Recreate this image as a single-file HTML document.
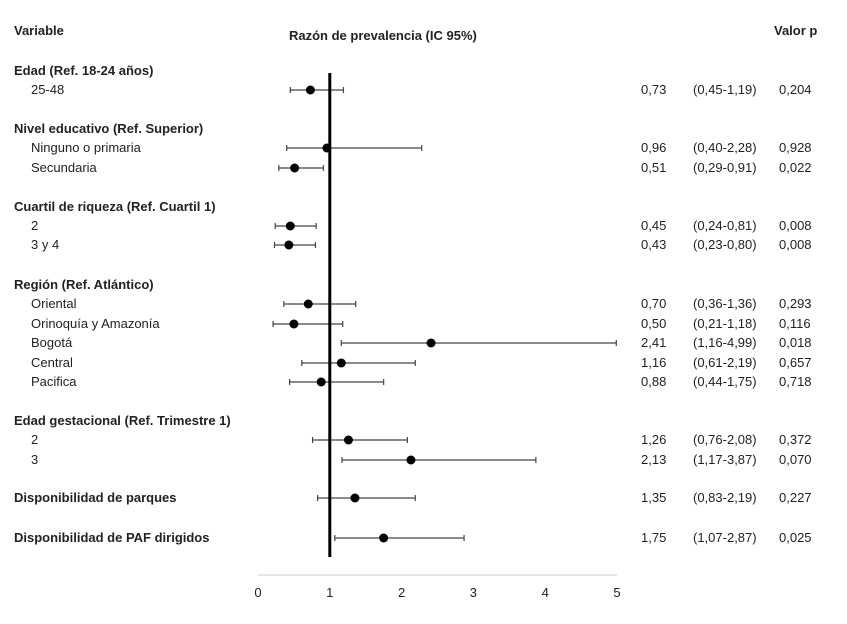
<!DOCTYPE html>
<html><head><meta charset="utf-8"><style>
body{margin:0;background:#fff;font-family:"Liberation Sans",sans-serif;}
svg text{font-family:"Liberation Sans",sans-serif;font-size:13px;fill:#222;}
.b{font-weight:bold;}
</style></head><body>
<svg width="847" height="619">
<g id="static">
<text x="14" y="35" class="b">Variable</text>
<text x="289" y="40" class="b">Razón de prevalencia (IC 95%)</text>
<text x="774" y="35" class="b">Valor p</text>
</g>
<g id="rows"></g>
<g id="axis"></g>
</svg>
<script>
const labels=["25-48","Ninguno o primaria","Secundaria","2","3 y 4","Oriental","Orinoquía y Amazonía","Bogotá","Central","Pacifica","2","3","Disponibilidad de parques","Disponibilidad de PAF dirigidos"];
const estimates=[0.73,0.96,0.51,0.45,0.43,0.70,0.50,2.41,1.16,0.88,1.26,2.13,1.35,1.75];
const lowers=[0.45,0.40,0.29,0.24,0.23,0.36,0.21,1.16,0.61,0.44,0.76,1.17,0.83,1.07];
const uppers=[1.19,2.28,0.91,0.81,0.80,1.36,1.18,4.99,2.19,1.75,2.08,3.87,2.19,2.87];
const pvalues=["0,204","0,928","0,022","0,008","0,008","0,293","0,116","0,018","0,657","0,718","0,372","0,070","0,227","0,025"];
const rowY=[90,148,168,226,245,304,324,343,363,382,440,460,498,538];
const groups=["Edad (Ref. 18-24 años)","Nivel educativo (Ref. Superior)","Cuartil de riqueza (Ref. Cuartil 1)","Región (Ref. Atlántico)","Edad gestacional (Ref. Trimestre 1)"];
const groupY=[71,129,207,285,421];
const ticks=[0,1,2,3,4,5];
const NS="http://www.w3.org/2000/svg";
const x=v=>258+v*71.8;
const fmt=v=>v.toFixed(2).replace('.',',');
function mk(t,a,parent){const e=document.createElementNS(NS,t);for(const k in a)e.setAttribute(k,a[k]);parent.appendChild(e);return e;}
const rows=document.getElementById('rows'),axis=document.getElementById('axis');
groups.forEach((g,i)=>{const t=mk('text',{x:14,y:groupY[i]+4,class:'b'},rows);t.textContent=g;

});
const refl=mk('line',{x1:x(1),x2:x(1),y1:73,y2:557,stroke:'#000','stroke-width':3},axis);


labels.forEach((l,i)=>{
 const y=rowY[i];const bold=i>=12;
 const t=mk('text',{x:bold?14:31,y:y+4,class:bold?'b':''},rows);t.textContent=l;
 
 
 const g=mk('g',{},rows);
 
 
 mk('line',{x1:x(lowers[i]),x2:x(uppers[i]),y1:y,y2:y,stroke:'#444','stroke-width':1.2},g);
 mk('line',{x1:x(lowers[i]),x2:x(lowers[i]),y1:y-3,y2:y+3,stroke:'#444','stroke-width':1.2},g);
 mk('line',{x1:x(uppers[i]),x2:x(uppers[i]),y1:y-3,y2:y+3,stroke:'#444','stroke-width':1.2},g);
 const c=mk('circle',{cx:x(estimates[i]),cy:y,r:4.5,fill:'#000'},g);
 
 
 const e=mk('text',{x:641,y:y+4},rows);e.textContent=fmt(estimates[i]);
 
 
 const ci=mk('text',{x:693,y:y+4},rows);ci.textContent='('+fmt(lowers[i])+'-'+fmt(uppers[i])+')';
 
 
 const p=mk('text',{x:779,y:y+4},rows);p.textContent=pvalues[i];
 
 
});
const al=mk('line',{x1:x(0),x2:x(5),y1:575,y2:575,stroke:'#ccc','stroke-width':1},axis);


ticks.forEach(v=>{const t=mk('text',{x:x(v),y:597,'text-anchor':'middle',fill:'#444'},axis);t.textContent=v;

});
</script>
</body></html>
